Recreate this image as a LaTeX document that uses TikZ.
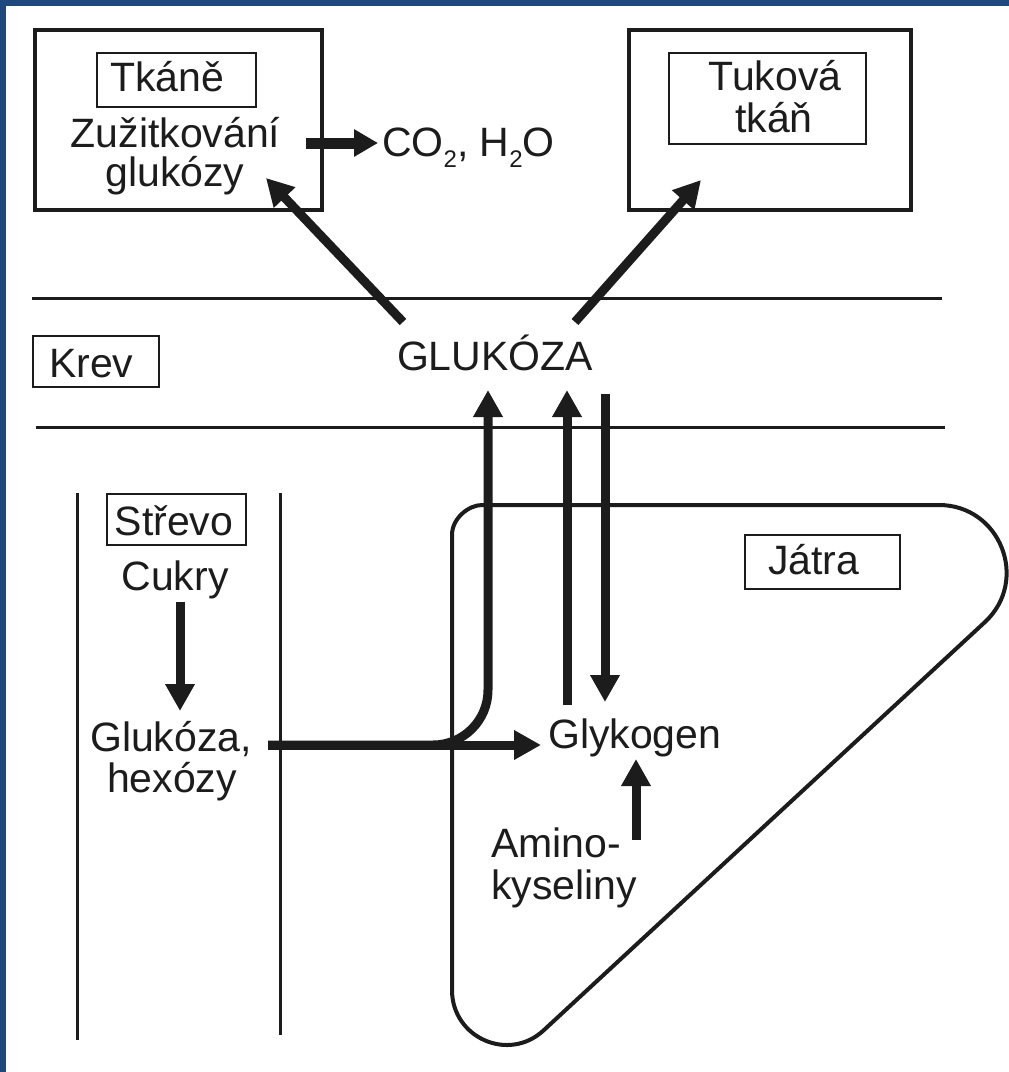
\documentclass[tikz,border=0pt]{standalone}
\usepackage{fontspec}
\setmainfont{Liberation Sans}
\usetikzlibrary{arrows.meta}
\definecolor{frameblue}{RGB}{31,73,125}
\definecolor{ink}{RGB}{28,28,28}
\newcommand{\lowsub}[1]{\raisebox{-11pt}{\fontsize{24}{24}\selectfont #1}}
\begin{document}
\begin{tikzpicture}[x=1pt,y=-1pt,
  txt/.style={font=\fontsize{41}{44}\selectfont, text=ink, inner sep=0pt, anchor=base},
  txtw/.style={txt, anchor=base west},
  outerbox/.style={draw=ink, line width=4pt, inner sep=0pt},
  labelbox/.style={draw=ink, line width=2.6pt, inner sep=0pt},
  sepline/.style={draw=ink, line width=3pt},
  bigarrow/.style={draw=ink, line width=9pt, -{Triangle[width=28pt,length=27pt]}},
  liverline/.style={draw=ink, line width=4pt, line join=round}]
% background and frame
\useasboundingbox (0,0) rectangle (1009,1072);
\fill[white] (0,0) rectangle (1009,1072);
\fill[frameblue] (0,0) rectangle (1009,6);
\fill[frameblue] (0,0) rectangle (6,1072);

% boxes
\node[outerbox, minimum width=287pt, minimum height=180pt] (tissue) at (178.5,120) {};
\node[labelbox, minimum width=159pt, minimum height=54pt] (tkanebox) at (176.5,80) {};
\node[outerbox, minimum width=282pt, minimum height=180pt] (fat) at (770,120) {};
\node[labelbox, minimum width=197pt, minimum height=91pt] (tukbox) at (767.5,98.5) {};
\node[labelbox, minimum width=126pt, minimum height=51pt] (krevbox) at (96,361.5) {};
\node[labelbox, minimum width=139pt, minimum height=51pt] (strevobox) at (176.5,519.5) {};
\node[labelbox, minimum width=155pt, minimum height=54pt] (jatrabox) at (822.5,562) {};

% texts
\node[txt] (tkane) at (167,91) {Tkáně};
\node[txt] (zuz) at (175.5,147) {Zužitkování};
\node[txt] (gluz) at (175,186) {glukózy};
\node[txtw] (co2) at (382,156) {CO\lowsub{2}, H\lowsub{2}O};
\node[txt] (tukova) at (775,90) {Tuková};
\node[txt] (tkan) at (774,132) {tkáň};
\node[txtw] (krev) at (49,377) {Krev};
\node[txt] (glukoza) at (495,370) {GLUKÓZA};
\node[txt] (strevo) at (174,535) {Střevo};
\node[txt] (cukry) at (175,590) {Cukry};
\node[txt] (glu1) at (171,751) {Glukóza,};
\node[txt] (glu2) at (172,792) {hexózy};
\node[txtw] (jatra) at (768,574) {Játra};
\node[txtw] (glykogen) at (548,748) {Glykogen};
\node[txtw] (amino) at (491,857) {Amino-};
\node[txtw] (kys) at (491,899) {kyseliny};

% blood vessel lines
\coordinate (b1l) at (32,298);  \coordinate (b1r) at (942,298);
\coordinate (b2l) at (36,427);  \coordinate (b2r) at (945,427);
\draw[sepline] (b1l) -- (b1r);
\draw[sepline] (b2l) -- (b2r);

% intestine lines
\coordinate (i1t) at (77,493);  \coordinate (i1b) at (77,1040);
\coordinate (i2t) at (280,493); \coordinate (i2b) at (280,1035);
\draw[sepline] (i1t) -- (i1b);
\draw[sepline] (i2t) -- (i2b);

% liver outline
\draw[liverline] (482,505) -- (939,505)
  .. controls (1000,505) and (1030,580) .. (985,622)
  -- (544,1030)
  .. controls (509,1063) and (452,1038) .. (452,990)
  -- (452,535)
  .. controls (452,518) and (469,505) .. (482,505) -- cycle;

% arrows
\coordinate (zuzE) at (306,143);
\coordinate (co2W) at (378,143);
\draw[draw=ink, line width=11pt, -{Triangle[width=26pt,length=24pt]}] (zuzE) -- (co2W);

\coordinate (gL) at (403,322); \coordinate (tisT) at (266,178);
\draw[bigarrow] (gL) -- (tisT);
\coordinate (gR) at (575,322); \coordinate (fatT) at (701,180);
\draw[bigarrow] (gR) -- (fatT);

\coordinate (cukS) at (180,602); \coordinate (gluN) at (180,711);
\draw[bigarrow] (cukS) -- (gluN);

\coordinate (gluE) at (268,745); \coordinate (glyW) at (541,745);
\coordinate (bend) at (488,745); \coordinate (upA) at (488,390);
\draw[bigarrow, rounded corners=55pt] (gluE) -- (bend) -- (upA);
\draw[bigarrow] (gluE) -- (glyW);

\coordinate (glyU) at (567,705); \coordinate (upB) at (567,390);
\draw[bigarrow] (glyU) -- (upB);
\coordinate (dnS) at (605,394); \coordinate (glyD) at (605,702);
\draw[bigarrow] (dnS) -- (glyD);

\coordinate (amN) at (636,840); \coordinate (glyS) at (636,759);
\draw[bigarrow] (amN) -- (glyS);
\end{tikzpicture}
\end{document}
